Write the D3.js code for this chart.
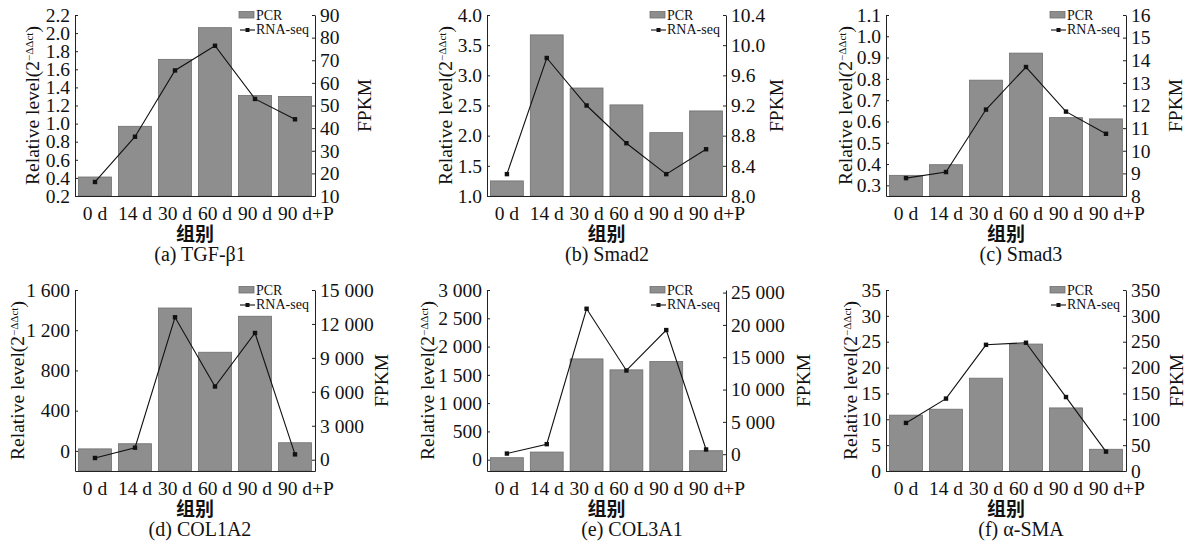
<!DOCTYPE html>
<html>
<head>
<meta charset="utf-8">
<script src="https://cdn.jsdelivr.net/npm/d3@7"></script>
<style>
  body { margin: 0; background: #fff; }
  svg text { font-family: "Liberation Serif", "Times New Roman", serif; fill: #111; }
</style>
</head>
<body>
<div id="chart"></div>
<script>
var groups = ["0 d", "14 d", "30 d", "60 d", "90 d", "90 d+P"];
var genes = ["TGF-β1", "Smad2", "Smad3", "COL1A2", "COL3A1", "α-SMA"];
var letters = ["a", "b", "c", "d", "e", "f"];

// PCR, relative level 2^-ΔΔct
var pcrTgfb1 = [0.41, 0.97, 1.71, 2.06, 1.31, 1.30];
var pcrSmad2 = [1.25, 3.67, 2.79, 2.51, 2.05, 2.41];
var pcrSmad3 = [0.347, 0.397, 0.794, 0.921, 0.618, 0.612];
var pcrCol1a2 = [20, 71, 1421, 981, 1339, 81];
var pcrCol3a1 = [35, 135, 1782, 1588, 1735, 159];
var pcrAsma = [10.8, 11.95, 17.95, 24.55, 12.2, 4.2];

// RNA-seq, FPKM
var fpkmTgfb1 = [16.2, 36.2, 65.5, 76.4, 52.9, 43.9];
var fpkmSmad2 = [8.29, 9.83, 9.20, 8.70, 8.29, 8.62];
var fpkmSmad3 = [8.79, 9.06, 11.82, 13.70, 11.73, 10.75];
var fpkmCol1a2 = [150, 1060, 12590, 6470, 11200, 470];
var fpkmCol3a1 = [100, 1550, 22500, 12950, 19200, 730];
var fpkmAsma = [93, 140, 244, 248, 143, 37.5];

var pcrSeries = [pcrTgfb1, pcrSmad2, pcrSmad3, pcrCol1a2, pcrCol3a1, pcrAsma];
var fpkmSeries = [fpkmTgfb1, fpkmSmad2, fpkmSmad3, fpkmCol1a2, fpkmCol3a1, fpkmAsma];

// axis domains and tick values
var leftDomains = [[0.2, 2.2], [1.0, 4.0], [0.25, 1.1], [-200, 1600], [-200, 3000], [0, 35]];
var rightDomains = [[10, 90], [8.0, 10.4], [8, 16], [-1000, 15000], [-2600, 25400], [0, 350]];
var leftTicks = [
  [0.2, 0.4, 0.6, 0.8, 1.0, 1.2, 1.4, 1.6, 1.8, 2.0, 2.2],
  [1.0, 1.5, 2.0, 2.5, 3.0, 3.5, 4.0],
  [0.3, 0.4, 0.5, 0.6, 0.7, 0.8, 0.9, 1.0, 1.1],
  [0, 400, 800, 1200, 1600],
  [0, 500, 1000, 1500, 2000, 2500, 3000],
  [0, 5, 10, 15, 20, 25, 30, 35]
];
var rightTicks = [
  [10, 20, 30, 40, 50, 60, 70, 80, 90],
  [8.0, 8.4, 8.8, 9.2, 9.6, 10.0, 10.4],
  [8, 9, 10, 11, 12, 13, 14, 15, 16],
  [0, 3000, 6000, 9000, 12000, 15000],
  [0, 5000, 10000, 15000, 20000, 25000],
  [0, 50, 100, 150, 200, 250, 300, 350]
];

var spaced = d3.formatLocale({decimal: ".", thousands: " ", grouping: [3], currency: ["", ""]}).format(",d");
var leftFormats = [d3.format(".1f"), d3.format(".1f"), d3.format(".1f"), spaced, spaced, d3.format("d")];
var rightFormats = [d3.format("d"), d3.format(".1f"), d3.format("d"), spaced, spaced, d3.format("d")];

// panel placement
var panels = [
  {x0: 75, x1: 315, top: 15, bottom: 196, leftLab: 36, rightLab: 56, capX: 200},
  {x0: 487, x1: 726, top: 15, bottom: 196, leftLab: 35, rightLab: 57, capX: 607},
  {x0: 886, x1: 1126, top: 15, bottom: 196, leftLab: 34, rightLab: 56, capX: 1021},
  {x0: 75, x1: 315, top: 290, bottom: 471, leftLab: 51, rightLab: 73, capX: 200},
  {x0: 487, x1: 726, top: 290, bottom: 471, leftLab: 53, rightLab: 84, capX: 632},
  {x0: 886, x1: 1126, top: 290, bottom: 471, leftLab: 29, rightLab: 57, capX: 1021}
];

var barFill = "#8e8e8e",
    barStroke = "#6f6f6f",
    fontSize = 19.5;

var svg = d3.select("#chart").append("svg")
    .attr("width", 1193)
    .attr("height", 549)
    .style("background", "#fff");

function textWidth(str, size) {
    var t = svg.append("text").style("font-size", size + "px").text(str);
    var w = t.node().getComputedTextLength();
    t.remove();
    return w;
}

function styleAxis(sel) {
    sel.attr("font-family", null).attr("font-size", null);
    sel.selectAll("text").style("font-size", fontSize + "px");
    sel.selectAll("path, line").attr("stroke", "#222").attr("stroke-width", 1);
}

panels.forEach(function(p, i) {
    var g = svg.append("g");

    var x = d3.scaleBand().domain(groups).range([p.x0, p.x1])
        .paddingInner(0.175).paddingOuter(0.0875);
    var yL = d3.scaleLinear().domain(leftDomains[i]).range([p.bottom, p.top]);
    var yR = d3.scaleLinear().domain(rightDomains[i]).range([p.bottom, p.top]);

    var rows = groups.map(function(d, j) {
        return {group: d, pcr: pcrSeries[i][j], fpkm: fpkmSeries[i][j]};
    });

    g.append("g").selectAll("rect")
        .data(rows)
        .enter().append("rect")
        .attr("x", function(d) { return x(d.group); })
        .attr("y", function(d) { return yL(d.pcr); })
        .attr("width", x.bandwidth())
        .attr("height", function(d) { return yL(leftDomains[i][0]) - yL(d.pcr); })
        .attr("fill", barFill)
        .attr("stroke", barStroke)
        .attr("stroke-width", 0.8);

    var line = d3.line()
        .x(function(d) { return x(d.group) + x.bandwidth() / 2; })
        .y(function(d) { return yR(d.fpkm); });

    g.append("path")
        .datum(rows)
        .attr("d", line)
        .attr("fill", "none")
        .attr("stroke", "#111")
        .attr("stroke-width", 1.1);

    g.append("g").selectAll("rect")
        .data(rows)
        .enter().append("rect")
        .attr("x", function(d) { return x(d.group) + x.bandwidth() / 2 - 2.2; })
        .attr("y", function(d) { return yR(d.fpkm) - 2.2; })
        .attr("width", 4.4)
        .attr("height", 4.4)
        .attr("fill", "#111");

    // axes
    var left = g.append("g")
        .attr("transform", "translate(" + p.x0 + ",0)")
        .call(d3.axisLeft(yL).tickValues(leftTicks[i]).tickFormat(leftFormats[i])
            .tickSize(-3).tickSizeOuter(0).tickPadding(5));
    styleAxis(left);

    var right = g.append("g")
        .attr("transform", "translate(" + p.x1 + ",0)")
        .call(d3.axisRight(yR).tickValues(rightTicks[i]).tickFormat(rightFormats[i])
            .tickSize(-3).tickSizeOuter(0).tickPadding(5));
    styleAxis(right);

    var bottom = g.append("g")
        .attr("transform", "translate(0," + p.bottom + ")")
        .call(d3.axisBottom(x).tickSize(0).tickPadding(10));
    styleAxis(bottom);

    // the "+P" hangs past the centred "90 d"
    bottom.selectAll(".tick text").each(function(d) {
        if (d.indexOf("+") > -1) {
            var w = textWidth(d.split("+")[0], fontSize);
            d3.select(this).attr("text-anchor", "start").attr("x", -w / 2);
        }
    });

    // axis titles
    var midY = (p.top + p.bottom) / 2;
    var yt = g.append("text")
        .attr("transform", "translate(" + (p.x0 - p.leftLab) + "," + midY + ") rotate(-90)")
        .attr("text-anchor", "middle")
        .style("font-size", fontSize + "px");
    yt.append("tspan").text("Relative level(2");
    yt.append("tspan").attr("baseline-shift", "super").style("font-size", "11px").text("−ΔΔct");
    yt.append("tspan").text(")");

    g.append("text")
        .attr("transform", "translate(" + (p.x1 + p.rightLab) + "," + midY + ") rotate(-90)")
        .attr("text-anchor", "middle")
        .style("font-size", fontSize + "px")
        .text("FPKM");

    g.append("text")
        .attr("x", (p.x0 + p.x1) / 2)
        .attr("y", p.bottom + 36)
        .attr("text-anchor", "middle")
        .attr("dominant-baseline", "central")
        .style("font-family", "'Noto Sans CJK SC', sans-serif")
        .style("font-weight", "bold")
        .style("font-size", "19px")
        .text("组别");

    g.append("text")
        .attr("x", p.capX)
        .attr("y", p.bottom + 65)
        .attr("text-anchor", "middle")
        .style("font-size", "20px")
        .text("(" + letters[i] + ") " + genes[i]);

    // legend
    var lg = g.append("g").attr("transform", "translate(" + (p.x1 - 77) + "," + p.top + ")");
    lg.append("rect")
        .attr("x", 1).attr("y", -3.5)
        .attr("width", 15).attr("height", 6.5)
        .attr("fill", barFill).attr("stroke", barStroke).attr("stroke-width", 0.8);
    lg.append("text").attr("x", 18).attr("y", 4.5)
        .style("font-size", "14px").text("PCR");
    lg.append("line")
        .attr("x1", 2).attr("x2", 17).attr("y1", 15).attr("y2", 15)
        .attr("stroke", "#111").attr("stroke-width", 1.1);
    lg.append("rect")
        .attr("x", 7.5).attr("y", 13).attr("width", 4).attr("height", 4)
        .attr("fill", "#111");
    lg.append("text").attr("x", 18).attr("y", 19)
        .style("font-size", "14px").text("RNA-seq");
});
</script>
</body>
</html>
